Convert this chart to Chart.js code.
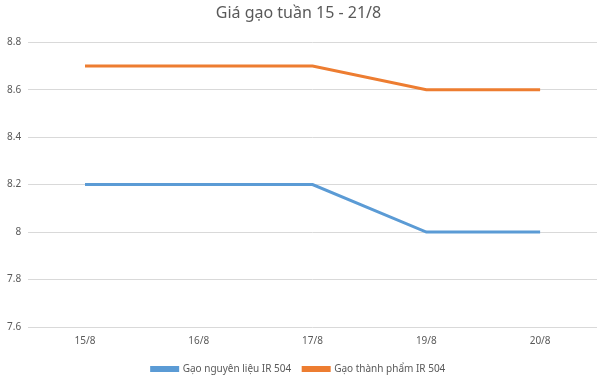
<!DOCTYPE html>
<html>
<head>
<meta charset="utf-8">
<script src="https://cdn.jsdelivr.net/npm/chart.js@4"></script>
<style>
  html, body { margin: 0; padding: 0; background: #fff; }
  #wrap { width: 603px; height: 384px; }
</style>
</head>
<body>
<div id="wrap"><canvas id="riceChart" width="603" height="384"></canvas></div>
<script>
// chart data
const days = ['15/8', '16/8', '17/8', '19/8', '20/8'];
const rawRice = [8.2, 8.2, 8.2, 8.0, 8.0];
const finishedRice = [8.7, 8.7, 8.7, 8.6, 8.6];
const yTicks = [7.6, 7.8, 8, 8.2, 8.4, 8.6, 8.8];

const txt = '#595959';
const fontFamily = '"Noto Sans", "Liberation Sans", sans-serif';

const ctx = document.getElementById('riceChart').getContext('2d');
new Chart(ctx, {
    type: 'line',
    data: {
        labels: days,
        datasets: [
            {
                label: 'Gạo nguyên liệu IR 504',
                data: rawRice,
                borderColor: '#5B9BD5',
                backgroundColor: '#5B9BD5',
                borderWidth: 3,
                pointRadius: 0,
                tension: 0
            },
            {
                label: 'Gạo thành phẩm IR 504',
                data: finishedRice,
                borderColor: '#ED7D31',
                backgroundColor: '#ED7D31',
                borderWidth: 3,
                pointRadius: 0,
                tension: 0
            }
        ]
    },
    options: {
        responsive: false,
        animation: false,
        layout: { padding: { left: 0, right: 6, top: 0, bottom: 0 } },
        plugins: {
            title: {
                display: true,
                text: 'Giá gạo tuần 15 - 21/8',
                color: txt,
                font: { family: fontFamily, size: 16, weight: 'normal' },
                padding: { top: 4, bottom: 19 }
            },
            legend: {
                position: 'bottom',
                labels: {
                    color: txt,
                    font: { family: fontFamily, size: 10 },
                    boxWidth: 26,
                    boxHeight: 3,
                    padding: 12
                }
            },
            tooltip: { enabled: false }
        },
        scales: {
            x: {
                offset: true,
                grid: { display: false },
                border: { display: false },
                afterFit: (axis) => { axis.height += 5; },
                ticks: { color: txt, font: { family: fontFamily, size: 10 }, padding: 0 }
            },
            y: {
                min: 7.6,
                max: 8.8,
                afterBuildTicks: (axis) => { axis.ticks = yTicks.map(v => ({ value: v })); },
                grid: { color: '#D9D9D9', drawTicks: false },
                border: { display: false },
                ticks: {
                    color: txt,
                    font: { family: fontFamily, size: 10 },
                    padding: 7,
                    callback: (v) => String(Math.round(v * 10) / 10)
                }
            }
        }
    }
});
</script>
</body>
</html>
